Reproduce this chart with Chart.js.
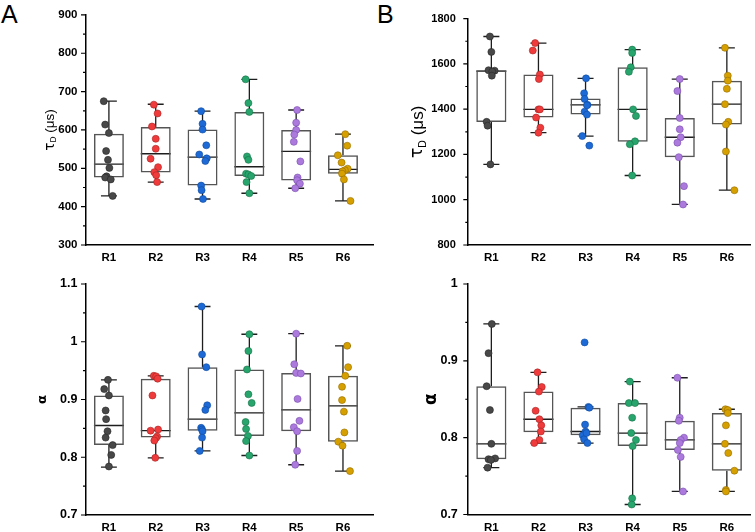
<!DOCTYPE html>
<html><head><meta charset="utf-8">
<script src="https://cdn.jsdelivr.net/npm/chart.js@4"></script>
<style>
html,body{margin:0;padding:0;background:#fff}
body{width:755px;height:532px;overflow:hidden;position:relative;font-family:"Liberation Sans",Arial,sans-serif}
.p{position:absolute}
.lbl{position:absolute;font-size:25px;line-height:1;color:#000;font-family:"Liberation Sans",Arial,sans-serif}
</style></head><body>
<div class="lbl" style="left:1px;top:2px">A</div>
<div class="lbl" style="left:377px;top:2px">B</div>
<div class="p" style="left:0;top:0;width:378px;height:266px"><canvas id="c1"></canvas></div>
<div class="p" style="left:378px;top:0;width:377px;height:266px"><canvas id="c2"></canvas></div>
<div class="p" style="left:0;top:266px;width:378px;height:266px"><canvas id="c3"></canvas></div>
<div class="p" style="left:378px;top:266px;width:377px;height:266px"><canvas id="c4"></canvas></div>
<script>
// ---------- categories ----------
const regions = ['R1','R2','R3','R4','R5','R6'];

// ---------- A: tau_D (µs) ----------
const tauA = [
  [675,614,592,545,522,501,479,476,471,428],
  [666,643,609,577,551,525,503,490,482,464],
  [649,616,601,560,536,526,519,455,443,420],
  [732,670,647,531,522,486,484,480,464,435],
  [652,619,600,588,569,518,476,469,460,448],
  [589,559,534,515,499,495,492,486,471,415]
];
const tauAJitter = [
  [-0.11,-0.08,0,-0.06,-0.02,0.01,-0.05,-0.08,0.04,0.08],
  [-0.04,0.04,-0.08,0,0,-0.11,0.05,-0.03,0.01,0.03],
  [-0.03,0,0,0.08,-0.07,0.09,0.06,-0.03,-0.02,0.01],
  [-0.08,-0.02,0,-0.05,-0.02,-0.07,-0.02,0.04,-0.06,0],
  [0.02,0,0,-0.04,-0.05,0.09,0.03,0.02,0.08,-0.02],
  [0.05,0.09,-0.11,-0.03,0.1,0.04,-0.01,-0.02,0.02,0.16]
];
// [whisker low, Q1, median, Q3, whisker high]
const tauABox = [
  [428,476,511,590,675],
  [464,489,538,608,667],
  [420,455,529,601,649],
  [435,480,504,647,732],
  [448,468,544,600,652],
  [415,486,497,534,589]
];
const tauATicks = [300,400,500,600,700,800,900];

// ---------- B: tau_D (µs) ----------
const tauB = [
  [1721,1653,1572,1570,1566,1548,1344,1327,1156],
  [1692,1659,1553,1533,1399,1399,1363,1318,1296],
  [1536,1470,1445,1419,1389,1376,1281,1239,1417],
  [1663,1648,1585,1565,1399,1370,1258,1245,1107],
  [1533,1480,1361,1311,1276,1252,1188,1060,979],
  [1671,1548,1526,1490,1422,1344,1332,1213,1042]
];
const tauBJitter = [
  [-0.03,0,-0.06,0.07,0.02,0.01,-0.1,-0.08,-0.02],
  [-0.07,-0.12,0.03,0.01,0,0.03,-0.05,0.04,0],
  [0.01,-0.03,-0.02,0.04,-0.02,0.03,-0.07,0.08,0.03],
  [-0.01,-0.01,-0.04,-0.08,0.01,0.07,0.05,-0.06,-0.01],
  [0,-0.05,0,0,0.02,-0.05,-0.02,0.09,0.07],
  [-0.04,0.02,0.02,0,-0.04,0.03,-0.02,-0.02,0.16]
];
const tauBBox = [
  [1156,1343,1568,1572,1721],
  [1296,1363,1399,1553,1692],
  [1281,1376,1419,1447,1536],
  [1107,1256,1399,1585,1663],
  [979,1188,1276,1361,1533],
  [1042,1332,1422,1526,1671]
];
const tauBTicks = [800,1000,1200,1400,1600,1800];

// ---------- A: alpha ----------
const alphaA = [
  [0.934,0.918,0.907,0.881,0.866,0.845,0.834,0.821,0.804,0.784],
  [0.941,0.940,0.936,0.907,0.848,0.846,0.836,0.833,0.829,0.799],
  [1.061,0.978,0.956,0.890,0.882,0.851,0.848,0.845,0.834,0.811],
  [1.013,0.984,0.952,0.909,0.894,0.861,0.849,0.837,0.828,0.803],
  [1.014,0.961,0.946,0.945,0.901,0.863,0.852,0.845,0.811,0.787],
  [0.993,0.956,0.941,0.922,0.899,0.879,0.843,0.827,0.820,0.776]
];
const alphaAJitter = [
  [-0.02,-0.10,0,-0.07,-0.06,-0.03,-0.07,0.08,0.05,0],
  [-0.04,0.01,0.04,-0.07,0.05,-0.11,0.03,0,-0.03,-0.01],
  [-0.02,-0.01,0.08,0.1,0.06,-0.03,-0.01,0,-0.01,-0.06],
  [0,-0.02,-0.05,-0.02,0.05,-0.08,-0.07,-0.03,-0.07,0],
  [0,-0.04,0,0.1,0.03,0.07,-0.05,0.02,0.02,-0.02],
  [0.09,0.11,0.05,-0.02,-0.02,0.02,0.03,-0.1,-0.01,0.15]
];
const alphaABox = [
  [0.783,0.821,0.855,0.907,0.934],
  [0.799,0.834,0.846,0.936,0.941],
  [0.811,0.846,0.866,0.956,1.061],
  [0.803,0.837,0.877,0.952,1.013],
  [0.787,0.845,0.882,0.946,1.014],
  [0.776,0.827,0.889,0.941,0.993]
];
const alphaATicks = [0.7,0.8,0.9,1.0,1.1];

// ---------- B: alpha ----------
const alphaB = [
  [0.948,0.910,0.867,0.836,0.792,0.772,0.773,0.771,0.761],
  [0.885,0.866,0.860,0.835,0.824,0.816,0.808,0.797,0.793],
  [0.924,0.840,0.839,0.817,0.808,0.803,0.798,0.793,0.806],
  [0.873,0.845,0.845,0.826,0.806,0.797,0.789,0.721,0.713],
  [0.878,0.826,0.822,0.800,0.797,0.793,0.784,0.775,0.730],
  [0.837,0.836,0.832,0.816,0.792,0.780,0.757,0.732,0.730]
];
const alphaBJitter = [
  [0.01,-0.06,-0.1,-0.03,0,-0.06,0.08,-0.01,-0.08],
  [-0.02,0.07,0.01,-0.06,0.02,0.06,0.05,0.02,-0.09],
  [-0.02,0.06,0.08,-0.01,0,-0.06,-0.03,0.04,0.02],
  [-0.06,-0.08,0.05,-0.01,-0.03,0.07,0,-0.01,-0.02],
  [-0.05,0,-0.02,0.09,0.02,0,-0.04,0.02,0.07],
  [-0.03,0.02,0.02,-0.02,-0.04,0.03,0.16,-0.02,-0.02]
];
const alphaBBox = [
  [0.761,0.772,0.792,0.867,0.948],
  [0.793,0.807,0.824,0.860,0.885],
  [0.793,0.803,0.808,0.839,0.840],
  [0.713,0.789,0.806,0.845,0.873],
  [0.730,0.784,0.797,0.822,0.878],
  [0.730,0.757,0.792,0.832,0.837]
];
const alphaBTicks = [0.7,0.8,0.9,1.0];

// ---------- styles ----------
const fillColors = ['#484848','#ef3b3b','#1d6ad6','#27a56d','#ab7adc','#d6a000'];
const edgeColors = ['#262626','#a82424','#0f4a9c','#177047','#7a4fb0','#946c00'];
const FONT = '"Liberation Sans", Arial, sans-serif';
const GREEK = '"DejaVu Sans", "Liberation Sans", sans-serif';
const BOX_HALF = 0.32, CAP_HALF = 0.17;

const boxDraw = {
  id: 'boxDraw',
  beforeDatasetsDraw(chart, args, o) {
    const {ctx} = chart, x = chart.scales.x, y = chart.scales.y;
    ctx.save();
    ctx.lineWidth = 1.3; ctx.strokeStyle = '#1e1e1e';
    o.boxes.forEach((b, i) => {
      const c = x.getPixelForValue(i + 1);
      const hb = x.getPixelForValue(i + 1 + BOX_HALF) - c;
      const hc = x.getPixelForValue(i + 1 + CAP_HALF) - c;
      const [lo, q1, md, q3, hi] = b.map(v => y.getPixelForValue(v));
      ctx.beginPath();
      ctx.moveTo(c, q3); ctx.lineTo(c, hi);
      ctx.moveTo(c - hc, hi); ctx.lineTo(c + hc, hi);
      ctx.moveTo(c, q1); ctx.lineTo(c, lo);
      ctx.moveTo(c - hc, lo); ctx.lineTo(c + hc, lo);
      ctx.moveTo(c - hb, md); ctx.lineTo(c + hb, md);
      ctx.stroke();
    });
    ctx.restore();
  }
};

const axisDeco = {
  id: 'axisDeco',
  afterDraw(chart, args, o) {
    const {ctx, chartArea} = chart, y = chart.scales.y;
    const left = chartArea.left;
    ctx.save();
    ctx.strokeStyle = '#000'; ctx.lineWidth = 1.2;
    ctx.beginPath();
    o.major.forEach(v => { const p = y.getPixelForValue(v); ctx.moveTo(left, p); ctx.lineTo(left - 4.5, p); });
    for (let k = 0; k < o.major.length - 1; k++) {
      const v = (o.major[k] + o.major[k + 1]) / 2;
      const p = y.getPixelForValue(v); ctx.moveTo(left, p); ctx.lineTo(left - 2.5, p);
    }
    ctx.stroke();
    // rotated y title with optional subscript
    ctx.translate(o.tx, (chartArea.top + chartArea.bottom) / 2);
    ctx.rotate(-Math.PI / 2);
    ctx.fillStyle = '#000';
    ctx.textBaseline = 'middle';
    ctx.textAlign = 'left';
    let w = 0;
    const parts = o.title.map(p => {
      const f = (p.bold ? 'bold ' : '') + (o.size * (p.s || 1)) + 'px ' + (p.greek ? GREEK : FONT);
      ctx.font = f;
      const pw = ctx.measureText(p.t).width;
      w += pw;
      return {t: p.t, f, pw, dy: (p.dy || 0) * o.size};
    });
    let cx = -w / 2;
    parts.forEach(p => { ctx.font = p.f; ctx.fillText(p.t, cx, p.dy); cx += p.pw; });
    ctx.restore();
  }
};

function fmt(v) { return String(Number(v.toFixed(3))); }

function makeChart(id, c) {
  const datasets = [{
    type: 'bar',
    data: c.box.map((b, i) => ({x: i + 1, y: [b[1], b[3]]})),
    backgroundColor: 'rgba(0,0,0,0)',
    borderColor: '#555',
    borderWidth: 1.5,
    borderSkipped: false,
    barPercentage: 2 * BOX_HALF,
    categoryPercentage: 1,
    order: 2
  }];
  c.vals.forEach((arr, i) => {
    datasets.push({
      type: 'scatter',
      data: arr.map((v, j) => ({x: i + 1 + c.jit[i][j], y: v})),
      backgroundColor: fillColors[i],
      borderColor: edgeColors[i],
      borderWidth: 0.6,
      pointRadius: 3.5,
      order: 1
    });
  });
  return new Chart(document.getElementById(id), {
    type: 'scatter',
    data: {datasets},
    plugins: [boxDraw, axisDeco],
    options: {
      responsive: true,
      maintainAspectRatio: false,
      animation: false,
      events: [],
      layout: {padding: {left: 0, top: c.padTop, right: c.padRight, bottom: 0}},
      plugins: {
        legend: {display: false},
        tooltip: {enabled: false},
        boxDraw: {boxes: c.box},
        axisDeco: {major: c.ticks, tx: c.tx, size: c.tsize, title: c.title}
      },
      scales: {
        x: {
          type: 'linear', min: 0.5, max: c.xMax, offset: false,
          grid: {display: false, drawTicks: false},
          border: {display: true, color: '#000', width: 1.5},
          afterBuildTicks: s => { s.ticks = regions.map((r, i) => ({value: i + 1})); },
          ticks: {
            callback: v => regions[Math.round(v) - 1],
            color: '#000', font: {family: FONT, size: 11.5, weight: 'bold'},
            padding: 6, maxRotation: 0, autoSkip: false
          },
          afterFit: s => { s.height = c.xH; }
        },
        y: {
          type: 'linear', min: c.ticks[0], max: c.ticks[c.ticks.length - 1],
          grid: {display: false, drawTicks: false},
          border: {display: true, color: '#000', width: 1.5},
          afterBuildTicks: s => { s.ticks = c.ticks.map(v => ({value: v})); },
          ticks: {
            callback: v => fmt(v),
            color: '#000', font: {family: FONT, size: c.fsize, weight: 'bold'},
            padding: c.tpad
          },
          afterFit: s => { s.width = c.yW; }
        }
      }
    }
  });
}

const tauTitle = [{t: 'τ', greek: true}, {t: 'D', s: 0.62, dy: 0.3}, {t: ' (μs)'}];
const alphaTitle = [{t: 'α', bold: true, greek: true}];

makeChart('c1', {vals: tauA, jit: tauAJitter, box: tauABox, ticks: tauATicks,
  xMax: 6.65, yW: 85.5, xH: 21, padTop: 14, padRight: 0, tx: 50, tsize: 13.5, title: tauTitle, fsize: 11.5, tpad: 8});
makeChart('c2', {vals: tauB, jit: tauBJitter, box: tauBBox, ticks: tauBTicks,
  xMax: 6.5, yW: 89.8, xH: 21, padTop: 14, padRight: 1, tx: 40, tsize: 17, title: tauTitle, fsize: 11, tpad: 12});
makeChart('c3', {vals: alphaA, jit: alphaAJitter, box: alphaABox, ticks: alphaATicks,
  xMax: 6.65, yW: 85.5, xH: 17, padTop: 18, padRight: 0, tx: 43, tsize: 13, title: alphaTitle, fsize: 12.5, tpad: 8});
makeChart('c4', {vals: alphaB, jit: alphaBJitter, box: alphaBBox, ticks: alphaBTicks,
  xMax: 6.5, yW: 89.8, xH: 17, padTop: 18, padRight: 1, tx: 54, tsize: 17, title: alphaTitle, fsize: 12.5, tpad: 10});
</script>
</body></html>
